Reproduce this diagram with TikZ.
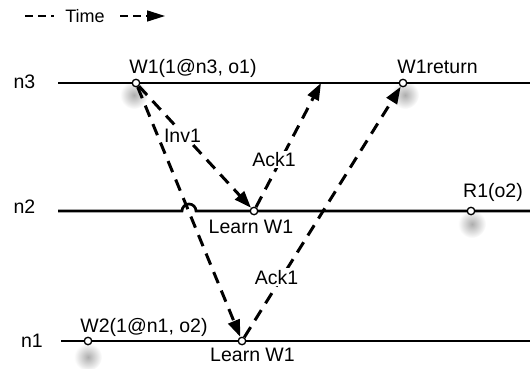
\documentclass[tikz,border=0pt]{standalone}
\usepackage{fontspec}
\setmainfont{Liberation Sans}
\usetikzlibrary{arrows.meta}
\begin{document}
\begin{tikzpicture}[x=1pt,y=1pt,
  lbl/.style={font=\fontsize{19.5}{22}\selectfont, inner sep=0pt, anchor=base},
  onln/.style={fill=white, inner sep=1.5pt},
  evt/.style={circle, draw, fill=white, line width=1.3pt, inner sep=0pt, minimum size=7.5pt},
  tl/.style={line width=2.7pt},
  msg/.style={line width=3pt, dash pattern=on 12pt off 8pt, -{Triangle[length=17pt,width=12pt]}},
  leg/.style={line width=1.5pt, dash pattern=on 8pt off 5pt},
  shd/.style={inner color=black!32, outer color=white}]
\useasboundingbox (0,0) rectangle (530,368);
% positions
\coordinate (pw1) at (136,285);
\coordinate (pwr) at (403,285);
\coordinate (pl2) at (254,157);
\coordinate (pr1) at (471,157);
\coordinate (pw2) at (88,27);
\coordinate (pl1) at (242,27);
\coordinate (a3) at (321,285);
% shadows
\shade[shd] (134,273) circle (14pt);
\shade[shd] (405,273) circle (14pt);
\shade[shd] (472,144) circle (14pt);
\shade[shd] (88,11) circle (14pt);
% time lines
\coordinate (n3s) at (58,285); \coordinate (n3e) at (530,285);
\coordinate (n2s) at (58,157); \coordinate (n2e) at (530,157);
\coordinate (n1s) at (61,27);  \coordinate (n1e) at (530,27);
\draw[tl] (n3s) -- (n3e);
\draw[tl] (n2s) -- (182,157) arc[start angle=180, end angle=0, radius=7pt] -- (n2e);
\draw[tl] (n1s) -- (n1e);
% events
\node[evt] (w1) at (pw1) {};
\node[evt] (wr) at (pwr) {};
\node[evt] (l2) at (pl2) {};
\node[evt] (r1) at (pr1) {};
\node[evt] (w2) at (pw2) {};
\node[evt] (l1) at (pl1) {};
% messages
\draw[msg] (w1) -- (l2);
\draw[msg] (w1) -- (l1);
\draw[msg] (l2) -- (a3);
\draw[msg] (l1) -- (wr);
% labels
\node[lbl] (tn3) at (24.5,280) {n3};
\node[lbl] (tn2) at (24.5,155) {n2};
\node[lbl] (tn1) at (32,21) {n1};
\node[lbl] (tw1) at (193,295) {W1(1@n3, o1)};
\node[lbl] (twr) at (437.5,295) {W1return};
\node[lbl, onln] (tinv) at (182.5,225.3) {Inv1};
\node[lbl, onln] (tack1) at (274,201.3) {Ack1};
\node[lbl] (tl2) at (251,134.7) {Learn W1};
\node[lbl] (tr1) at (493,170.7) {R1(o2)};
\node[lbl] (tw2) at (144,35.3) {W2(1@n1, o2)};
\node[lbl] (tl1) at (252.5,6.3) {Learn W1};
\node[lbl, onln] (tack2) at (276.5,84) {Ack1};
% legend
\coordinate (lg1) at (25,352); \coordinate (lg2) at (54,352);
\coordinate (lg3) at (120,352); \coordinate (lg4) at (165,352);
\draw[leg] (lg1) -- (lg2);
\node[lbl, font=\fontsize{18}{21}\selectfont] (time) at (85,346) {Time};
\draw[leg, -{Triangle[length=18pt,width=11pt]}] (lg3) -- (lg4);
\end{tikzpicture}
\end{document}
